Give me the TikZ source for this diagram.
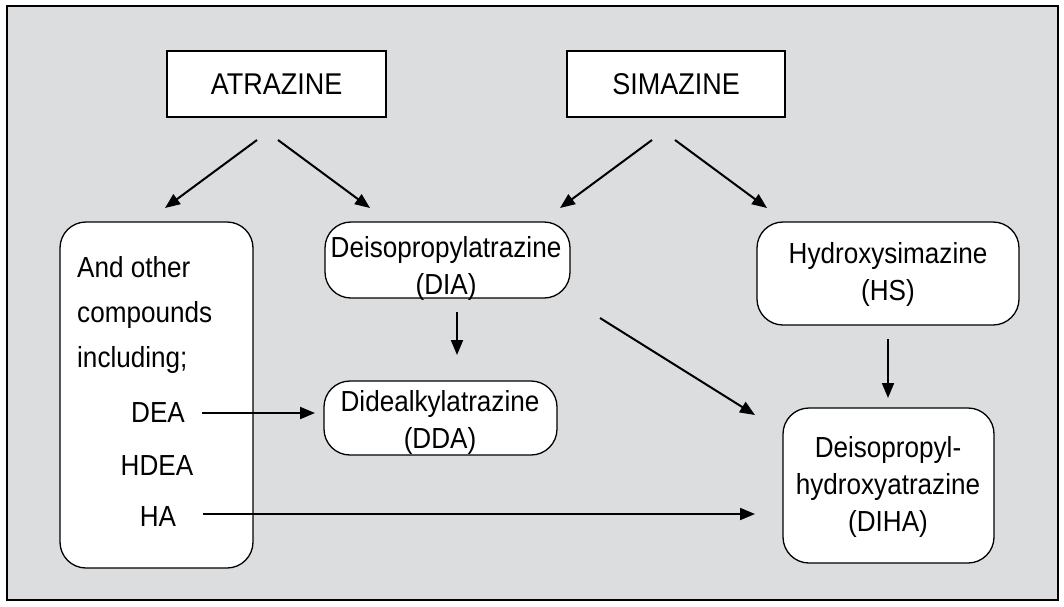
\documentclass[tikz,border=0pt]{standalone}
\usepackage{fontspec}
\setmainfont{Liberation Sans}[FakeStretch=0.9]
\usetikzlibrary{arrows.meta}
\definecolor{bggray}{RGB}{220,221,223}
\tikzset{
  box/.style={draw=black, line width=1.3pt, fill=white, inner sep=0pt, align=center},
  rbox/.style={box, rounded corners=26pt},
  lbl/.style={inner sep=0pt, align=center, font=\fontsize{29}{37}\selectfont},
  arr/.style={line width=2pt, -{Triangle[length=15pt,width=12pt]}},
}
\begin{document}
\begin{tikzpicture}[x=1pt,y=-1pt]
\useasboundingbox (0,0) rectangle (1064,606);
\fill[white] (0,0) rectangle (1064,606);
\draw[line width=1.5pt, fill=bggray] (7,6) rectangle (1058,600);

% boxes
\node[box, minimum width=219pt, minimum height=66pt] (atr) at (276.5,84) {};
\node[lbl, font=\fontsize{30}{37}\selectfont] at (atr.center) {ATRAZINE};
\node[box, minimum width=218pt, minimum height=66pt] (sim) at (676,84) {};
\node[lbl, font=\fontsize{30}{37}\selectfont] at (sim.center) {SIMAZINE};

\node[rbox, minimum width=193pt, minimum height=346pt] (oth) at (156.5,395) {};
\node[lbl, anchor=west, align=left, font=\fontsize{29}{45}\selectfont] (othtxt) at (77,315) {And other\\compounds\\including;};
\node[lbl] (dea) at (158,413) {DEA};
\node[lbl] (hdea) at (157,466) {HDEA};
\node[lbl] (ha) at (158,517) {HA};

\node[rbox, minimum width=245pt, minimum height=76pt] (dia) at (447.5,260) {};
\node[lbl] at (446,268) {Deisopropylatrazine\\(DIA)};

\node[rbox, minimum width=262pt, minimum height=103pt] (hs) at (888,273.5) {};
\node[lbl] at (888,274) {Hydroxysimazine\\(HS)};

\node[rbox, minimum width=233pt, minimum height=74pt] (dda) at (440.5,418) {};
\node[lbl] at (440,422) {Didealkylatrazine\\(DDA)};

\node[rbox, minimum width=211pt, minimum height=155pt] (diha) at (888.5,485.5) {};
\node[lbl] at (888,487) {Deisopropyl-\\hydroxyatrazine\\(DIHA)};

% arrow end points
\coordinate (a1s) at (257,140);
\coordinate (a1e) at (165,208);
\coordinate (a2s) at (278,140);
\coordinate (a2e) at (370,208);
\coordinate (s1s) at (652,140);
\coordinate (s1e) at (560,208);
\coordinate (s2s) at (675,140);
\coordinate (s2e) at (767,208);
\coordinate (d1s) at (457,312);
\coordinate (d1e) at (457,355);
\coordinate (d2s) at (600,318);
\coordinate (d2e) at (755,415);
\coordinate (h1s) at (888,339);
\coordinate (h1e) at (888,398);
\coordinate (deas) at (202,413);
\coordinate (deae) at (315,413);
\coordinate (has) at (203,514);
\coordinate (hae) at (755,514);

\draw[arr] (a1s) -- (a1e);
\draw[arr] (a2s) -- (a2e);
\draw[arr] (s1s) -- (s1e);
\draw[arr] (s2s) -- (s2e);
\draw[arr] (d1s) -- (d1e);
\draw[arr] (d2s) -- (d2e);
\draw[arr] (h1s) -- (h1e);
\draw[arr] (deas) -- (deae);
\draw[arr] (has) -- (hae);
\end{tikzpicture}
\end{document}
